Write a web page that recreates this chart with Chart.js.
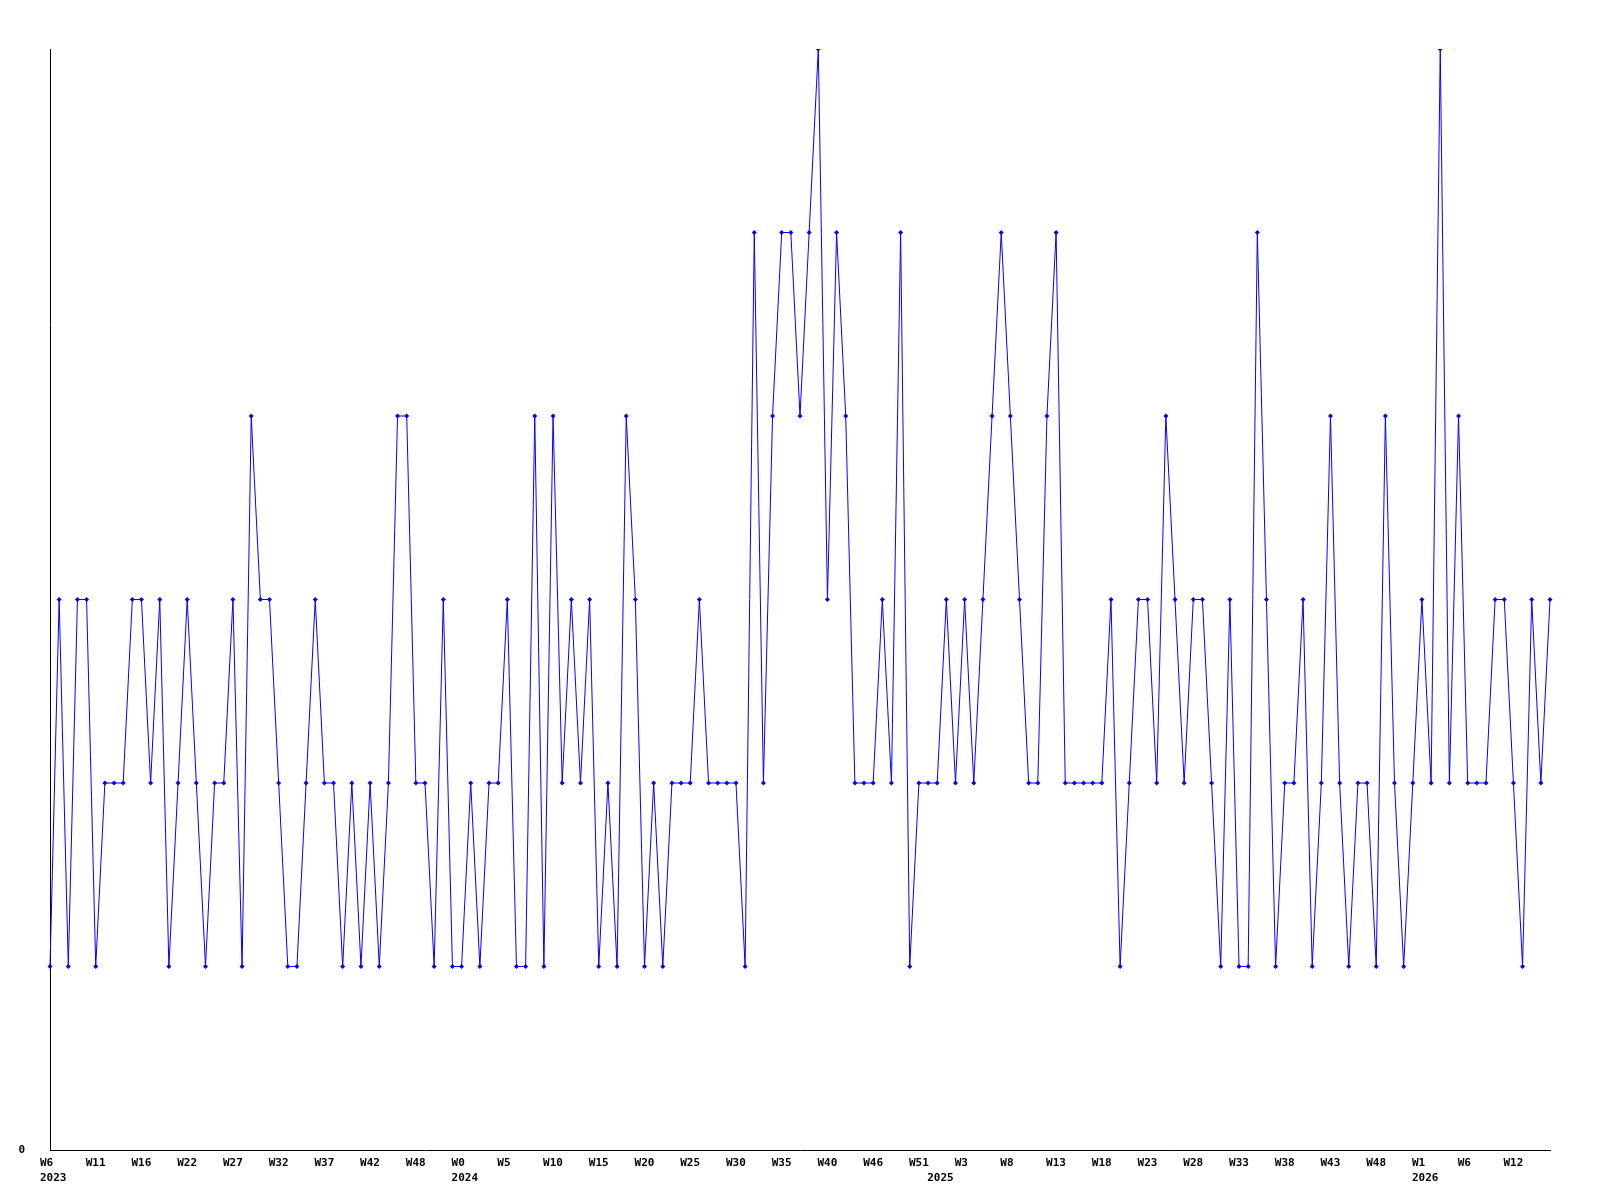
<!DOCTYPE html>
<html>
<head>
<meta charset="utf-8">
<script src="https://cdn.jsdelivr.net/npm/chart.js@4/dist/chart.umd.min.js"></script>
<style>
  html, body { margin: 0; padding: 0; background: #fff; }
  #wrap { width: 1600px; height: 1200px; }
</style>
</head>
<body>
<div id="wrap"><canvas id="c" width="1600" height="1200"></canvas></div>
<script>
// Weekly values, one per week, starting at W6 2023
const values = [
  1,3,1,3,3,1,2,2,2,3,3,2,3,1,2,3,2,1,2,2,3,1,4,3,3,2,1,1,
  2,3,2,2,1,2,1,2,1,2,4,4,2,2,1,3,1,1,2,1,2,2,3,1,1,4,1,
  4,2,3,2,3,1,2,1,4,3,1,2,1,2,2,2,3,2,2,2,2,1,5,2,4,5,5,4,
  5,6,3,5,4,2,2,2,3,2,5,1,2,2,2,3,2,3,2,3,4,5,4,3,2,2,4,
  5,2,2,2,2,2,3,1,2,3,3,2,4,3,2,3,3,2,1,3,1,1,5,3,1,2,2,3,
  1,2,4,2,1,2,2,1,4,2,1,2,3,2,6,2,4,2,2,2,3,3,2,1,3,2,3
];
// Tick labels shown every 5 weeks
const tickLabels = [
  'W6','W11','W16','W22','W27','W32','W37','W42','W48',
  'W0','W5','W10','W15','W20','W25','W30','W35','W40','W46','W51',
  'W3','W8','W13','W18','W23','W28','W33','W38','W43','W48',
  'W1','W6','W12'
];
// Year labels, keyed by the week (point index) where they are printed
const yearLabels = { 0: '2023', 45: '2024', 97: '2025', 150: '2026' };
const tickEvery = 5;
const yTickLabels = ['0'];

const categories = values.map((v, i) => {
  const isTick = i % tickEvery === 0;
  const t = isTick ? (tickLabels[i / tickEvery] || '') : '';
  const yr = yearLabels[i];
  if (yr) return [t, yr];
  return t;
});

const font = { family: 'DejaVu Sans Mono', size: 11, weight: 'bold', lineHeight: 1.35 };

new Chart(document.getElementById('c'), {
  type: 'line',
  data: {
    labels: categories,
    datasets: [{
      data: values,
      borderColor: '#0000ff',
      backgroundColor: '#0000ff',
      borderWidth: 1,
      tension: 0,
      fill: false,
      pointStyle: 'rectRot',
      pointRadius: 2.5,
      pointBorderWidth: 0,
      pointBackgroundColor: '#0000ff'
    }]
  },
  options: {
    responsive: false,
    animation: false,
    devicePixelRatio: 1,
    layout: { padding: { top: 49, right: 50, left: 0, bottom: 0 } },
    plugins: { legend: { display: false }, tooltip: { enabled: false } },
    scales: {
      x: {
        type: 'category',
        offset: false,
        grid: { display: true, drawOnChartArea: false, drawTicks: false },
        border: { display: true, color: '#000', width: 1 },
        ticks: {
          autoSkip: false, maxRotation: 0, minRotation: 0,
          align: 'start', labelOffset: -10, padding: 6,
          color: '#000', font: font
        },
        afterFit: (s) => { s.height = 50; }
      },
      y: {
        min: 0, max: 6,
        grid: { display: true, drawOnChartArea: false, drawTicks: false },
        border: { display: true, color: '#000', width: 1 },
        afterBuildTicks: (s) => { s.ticks = yTickLabels.map(t => ({ value: Number(t) })); },
        ticks: { color: '#000', font: font, padding: 25 },
        afterFit: (s) => { s.width = 50; }
      }
    }
  }
});
</script>
</body>
</html>
